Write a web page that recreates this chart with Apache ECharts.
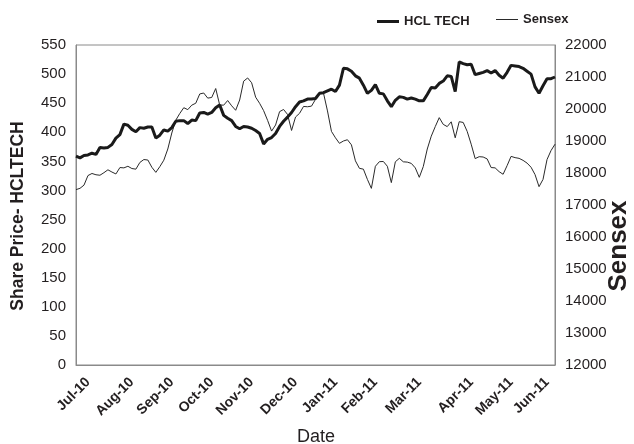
<!DOCTYPE html>
<html>
<head>
<meta charset="utf-8">
<script src="https://cdn.jsdelivr.net/npm/echarts@6/dist/echarts.min.js"></script>
<style>
html,body{margin:0;padding:0;background:#fff;}
#chart{width:634px;height:444px;}
</style>
</head>
<body>
<div id="chart"></div>
<script>
// Month tick labels and the sample index they sit at
const monthLabels = ['Jul-10','Aug-10','Sep-10','Oct-10','Nov-10','Dec-10','Jan-11','Feb-11','Mar-11','Apr-11','May-11','Jun-11'];
const monthLabelIndex = [3,14,24,34,44,55,65,75,86,99,109,118];

// HCL TECH share price (left axis), sampled evenly across the year
const hclTech = [
359,356,360,361,364,362,374,373,374,379,
390,396,414,412,405,401,408,407,409,409,
390,395,404,402,408,419,420,420,415,421,
420,433,434,431,434,442,447,429,424,420,
410,406,410,409,407,403,398,380,388,391,
398,410,419,426,434,444,452,454,457,457,
458,467,468,471,474,470,481,510,509,505,
497,493,481,467,472,482,467,466,454,444,
455,461,460,457,459,457,454,454,465,477,
476,484,488,497,496,470,521,518,516,517,
499,501,503,506,502,506,498,493,503,515,
514,513,510,505,500,478,467,480,492,492,
495
];

// Sensex (right axis)
const sensex = [
17480,17521,17620,17920,17985,17945,17930,18010,18100,18030,
17970,18170,18160,18210,18140,18120,18330,18420,18406,18180,
18020,18198,18400,18750,19250,19650,19860,20040,19980,20120,
20180,20470,20500,20340,20360,20640,20125,20120,20265,20100,
19960,20281,20870,20970,20820,20370,20177,19950,19645,19310,
19500,19917,19985,19830,19330,19750,19865,20080,20070,20090,
20300,20500,20500,19940,19300,19100,18927,19000,19040,18880,
18380,18146,18120,17800,17520,18210,18354,18360,18210,17700,
18350,18458,18350,18340,18300,18160,17865,18200,18750,19150,
19450,19730,19520,19450,19600,19100,19604,19580,19300,18900,
18450,18510,18500,18440,18170,18160,18042,17960,18230,18520,
18480,18458,18395,18310,18180,17950,17573,17800,18420,18700,
18900
];

const categories = hclTech.map((_, i) => String(i));
const labelAt = {};
monthLabelIndex.forEach((idx, k) => { labelAt[idx] = monthLabels[k]; });

const FONT = "'Liberation Sans', Arial, Helvetica, sans-serif";
const TXT = '#231f20';

const legendText = {fontFamily: FONT, fontWeight: 'bold', fontSize: 13, color: TXT};

const chart = echarts.init(document.getElementById('chart'), null, {renderer: 'canvas'});
chart.setOption({
  animation: false,
  backgroundColor: '#fff',
  textStyle: {fontFamily: FONT},
  grid: {left: 76, right: 79, top: 45, bottom: 79, show: true, borderColor: '#8a8a8a', borderWidth: 1, backgroundColor: 'transparent'},
  legend: [
    {
      left: 377, top: 15, padding: 0,
      icon: 'rect', itemWidth: 22, itemHeight: 3,
      textStyle: legendText,
      data: ['HCL TECH']
    },
    {
      left: 496, top: 13, padding: 0,
      icon: 'rect', itemWidth: 22, itemHeight: 1,
      textStyle: legendText,
      data: ['Sensex']
    }
  ],
  xAxis: {
    type: 'category',
    data: categories,
    boundaryGap: false,
    axisLine: {show: true, lineStyle: {color: '#8a8a8a', width: 1}},
    axisTick: {show: false},
    splitLine: {show: false},
    axisLabel: {
      rotate: 45,
      margin: 15,
      fontFamily: FONT, fontWeight: 'bold', fontSize: 14, color: TXT,
      interval: function (index) { return labelAt[index] !== undefined; },
      formatter: function (value, index) { return labelAt[index] || ''; }
    }
  },
  yAxis: [
    {
      type: 'value', min: 0, max: 550, interval: 50, position: 'left',
      axisLine: {show: true, lineStyle: {color: '#8a8a8a'}},
      axisTick: {show: false}, splitLine: {show: false},
      axisLabel: {margin: 10, fontFamily: FONT, fontSize: 15, color: TXT,
                  formatter: function (v) { return String(v); }}
    },
    {
      type: 'value', min: 12000, max: 22000, interval: 1000, position: 'right',
      axisLine: {show: true, lineStyle: {color: '#8a8a8a'}},
      axisTick: {show: false}, splitLine: {show: false},
      axisLabel: {margin: 10, fontFamily: FONT, fontSize: 15, color: TXT,
                  formatter: function (v) { return String(v); }}
    }
  ],
  graphic: [
    {type: 'text', x: 18, y: 216, rotation: Math.PI / 2,
     style: {text: 'Share Price- HCLTECH', font: 'bold 17.5px ' + FONT, fill: TXT, textAlign: 'center', textVerticalAlign: 'middle'}},
    {type: 'text', x: 619, y: 246, rotation: Math.PI / 2,
     style: {text: 'Sensex', font: 'bold 26px ' + FONT, fill: TXT, textAlign: 'center', textVerticalAlign: 'middle'}},
    {type: 'text', x: 316, y: 437,
     style: {text: 'Date', font: '18px ' + FONT, fill: TXT, textAlign: 'center', textVerticalAlign: 'middle'}}
  ],
  series: [
    {
      name: 'HCL TECH', type: 'line', yAxisIndex: 0, data: hclTech,
      symbol: 'none', smooth: false,
      lineStyle: {color: '#1a1a1a', width: 3}, itemStyle: {color: '#1a1a1a'}, z: 3
    },
    {
      name: 'Sensex', type: 'line', yAxisIndex: 1, data: sensex,
      symbol: 'none', smooth: false,
      lineStyle: {color: '#2a2a2a', width: 1}, itemStyle: {color: '#2a2a2a'}, z: 2
    }
  ]
});
</script>
</body>
</html>
